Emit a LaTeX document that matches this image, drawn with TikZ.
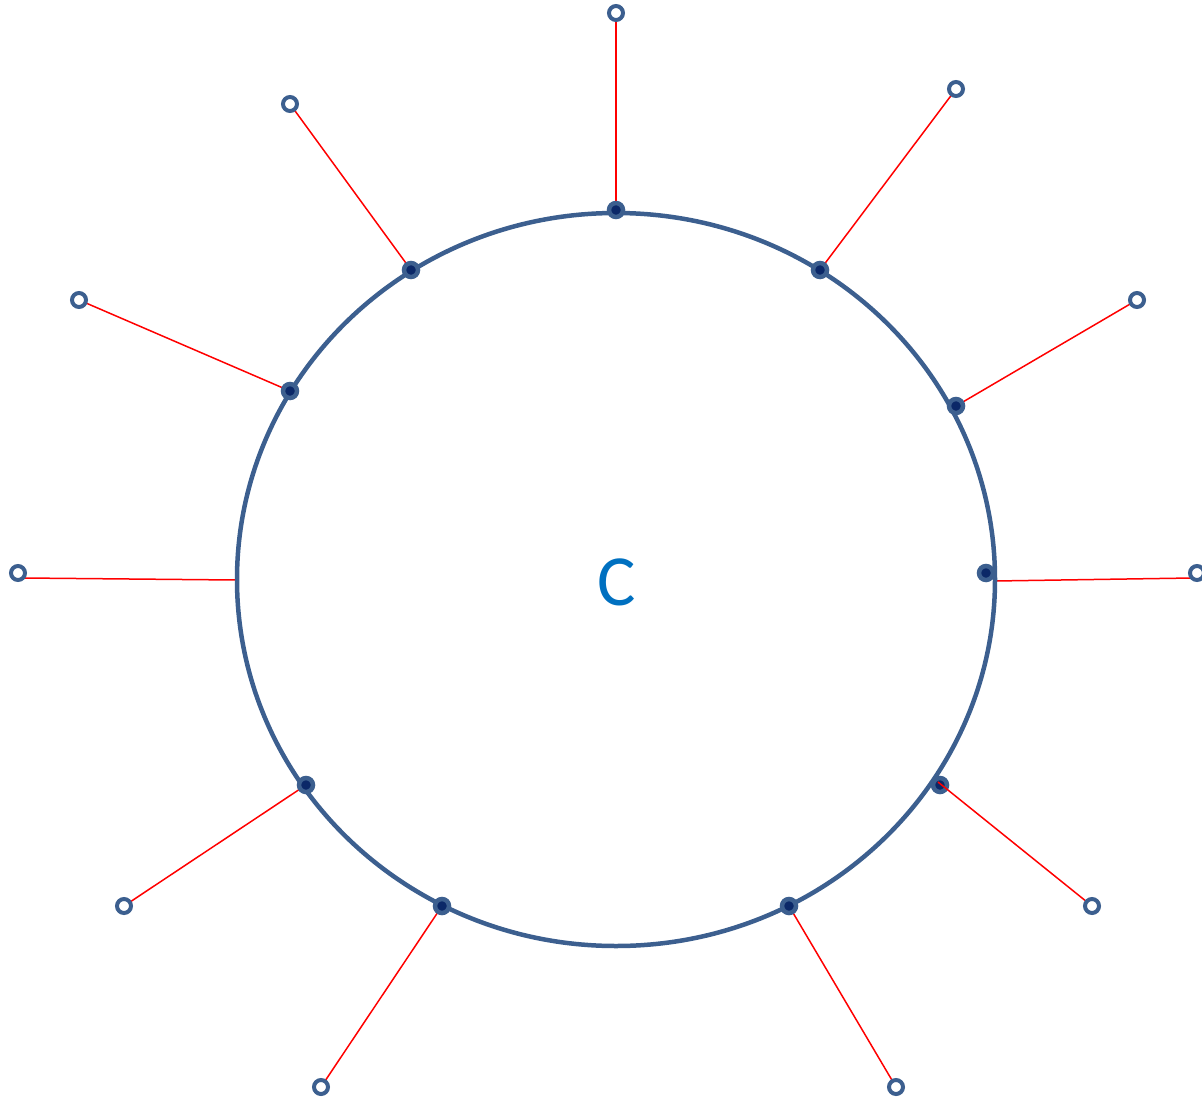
\documentclass[tikz,border=0pt]{standalone}
\usepackage{fontspec}
\setmainfont{Carlito}
\usetikzlibrary{shapes.geometric}
\definecolor{ringblue}{HTML}{3C5F8F}
\definecolor{navy}{HTML}{0B2868}
\definecolor{textblue}{HTML}{0070C0}
\tikzset{
  bigring/.style={ellipse, draw=ringblue, line width=4.5pt, minimum width=758pt, minimum height=733pt, inner sep=0pt},
  innerdot/.style={circle, draw=ringblue, fill=navy, line width=4.5pt, minimum size=14pt, inner sep=0pt},
  outerdot/.style={circle, draw=ringblue, fill=white, line width=4pt, minimum size=14pt, inner sep=0pt},
  spoke/.style={draw=red, line width=1.5pt},
  label/.style={text=textblue, font=\fontsize{72}{72}\selectfont}
}
\begin{document}
\begin{tikzpicture}[x=1pt,y=-1pt]
\useasboundingbox (0,0) rectangle (1202,1100);
% inner points
\coordinate (i1) at (616,210);
\coordinate (i2) at (820,270);
\coordinate (i3) at (956,406);
\coordinate (i4) at (995,581);
\coordinate (i5) at (938,782);
\coordinate (i6) at (789,906);
\coordinate (i7) at (442,906);
\coordinate (i8) at (306,785);
\coordinate (i9) at (236,580);
\coordinate (i10) at (290,391);
\coordinate (i11) at (411,270);
% outer points
\coordinate (p1) at (616,13);
\coordinate (p2) at (956,89);
\coordinate (p3) at (1137,300);
\coordinate (p4) at (1197,573);
\coordinate (p5) at (1092,906);
\coordinate (p6) at (896,1087);
\coordinate (p7) at (321,1087);
\coordinate (p8) at (124,906);
\coordinate (p9) at (18,573);
\coordinate (p10) at (79,300);
\coordinate (p11) at (290,104);
% spokes
\draw[spoke] (i1) -- (p1);
\draw[spoke] (i2) -- (p2);
\draw[spoke] (i3) -- (p3);
\draw[spoke] (i4) -- (1192,578) coordinate (e4);
\draw[spoke] (i6) -- (p6);
\draw[spoke] (i7) -- (p7);
\draw[spoke] (i8) -- (p8);
\draw[spoke] (i9) -- (24,578) coordinate (e9);
\draw[spoke] (i10) -- (p10);
\draw[spoke] (i11) -- (p11);
% big circle
\node[bigring] (ring) at (616,579.5) {};
\node[label] (c) at (617,582) {C};
% inner dots
\node[innerdot] (d1) at (i1) {};
\node[innerdot] (d2) at (i2) {};
\node[innerdot] (d3) at (i3) {};
\node[innerdot] (d4) at (986,573) {};
\node[innerdot] (d5) at (940,785) {};
\node[innerdot] (d6) at (i6) {};
\node[innerdot] (d7) at (i7) {};
\node[innerdot] (d8) at (i8) {};
\node[innerdot] (d10) at (i10) {};
\node[innerdot] (d11) at (i11) {};
\draw[spoke] (i5) -- (p5);
% outer open circles
\node[outerdot] (o1) at (p1) {};
\node[outerdot] (o2) at (p2) {};
\node[outerdot] (o3) at (p3) {};
\node[outerdot] (o4) at (p4) {};
\node[outerdot] (o5) at (p5) {};
\node[outerdot] (o6) at (p6) {};
\node[outerdot] (o7) at (p7) {};
\node[outerdot] (o8) at (p8) {};
\node[outerdot] (o9) at (p9) {};
\node[outerdot] (o10) at (p10) {};
\node[outerdot] (o11) at (p11) {};
\end{tikzpicture}
\end{document}
